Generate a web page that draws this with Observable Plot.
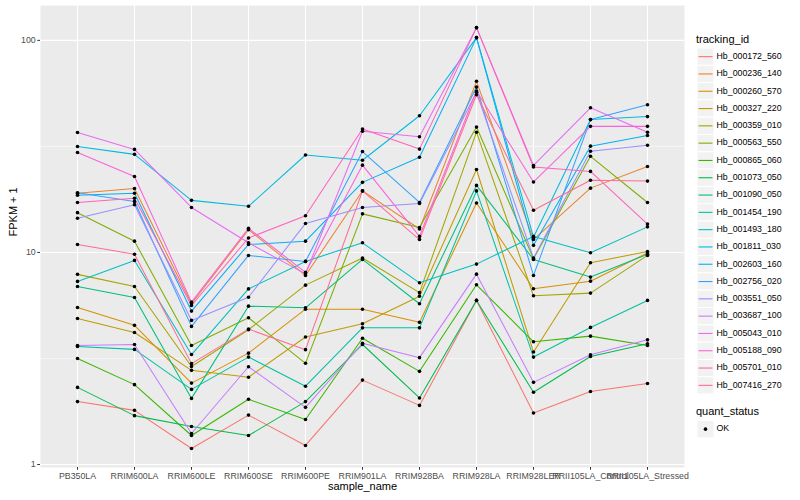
<!DOCTYPE html>
<html>
<head>
<meta charset="utf-8">
<script src="https://cdn.jsdelivr.net/npm/d3@7"></script>
<script src="https://cdn.jsdelivr.net/npm/@observablehq/plot@0.6"></script>
<style>
  html, body { margin: 0; padding: 0; background: white; }
  #chart { width: 800px; height: 500px; }
</style>
</head>
<body>
<div id="chart"></div>
<script>
const samples = ["PB350LA", "RRIM600LA", "RRIM600LE", "RRIM600SE", "RRIM600PE", "RRIM901LA",
  "RRIM928BA", "RRIM928LA", "RRIM928LER", "RRII105LA_Control", "RRII105LA_Stressed"];

const trackingIds = ["Hb_000172_560", "Hb_000236_140", "Hb_000260_570", "Hb_000327_220", "Hb_000359_010",
  "Hb_000563_550", "Hb_000865_060", "Hb_001073_050", "Hb_001090_050", "Hb_001454_190",
  "Hb_001493_180", "Hb_001811_030", "Hb_002603_160", "Hb_002756_020", "Hb_003551_050",
  "Hb_003687_100", "Hb_005043_010", "Hb_005188_090", "Hb_005701_010", "Hb_007416_270"];

const palette = ["#F8766D", "#EA8331", "#D89000", "#C09B00", "#A3A500", "#7CAE00", "#39B600", "#00BB4E",
  "#00BF7D", "#00C1A3", "#00BFC4", "#00BAE0", "#00B0F6", "#35A2FF", "#9590FF", "#C77CFF",
  "#E76BF3", "#FA62DB", "#FF62BC", "#FF6C91"];

// FPKM + 1 per sample (same order as samples)
const hb_000172_560 = [1.98, 1.80, 1.19, 1.71, 1.23, 2.50, 1.90, 5.94, 1.75, 2.21, 2.41];
const hb_000236_140 = [19.0, 20.0, 5.73, 12.8, 7.79, 19.5, 12.9, 64.1, 11.5, 20.1, 25.4];
const hb_000260_570 = [5.50, 4.53, 2.42, 3.35, 5.40, 5.40, 4.68, 17.1, 6.74, 7.32, 9.95];
const hb_000327_220 = [4.88, 4.19, 2.78, 2.58, 3.99, 4.61, 6.22, 24.6, 3.39, 8.94, 10.1];
const hb_000359_010 = [7.88, 6.91, 2.90, 4.32, 7.01, 9.42, 6.46, 36.9, 6.25, 6.43, 9.68];
const hb_000563_550 = [15.4, 11.3, 3.64, 4.92, 3.00, 15.2, 13.1, 39.0, 9.34, 28.4, 17.2];
const hb_000865_060 = [3.16, 2.38, 1.37, 2.03, 1.63, 3.94, 2.75, 7.04, 3.79, 4.03, 3.64];
const hb_001073_050 = [2.31, 1.70, 1.51, 1.37, 1.98, 3.68, 2.06, 5.94, 2.19, 3.23, 3.71];
const hb_001090_050 = [6.91, 6.13, 2.05, 5.58, 5.48, 9.27, 5.73, 20.7, 9.27, 7.65, 9.80];
const hb_001454_190 = [3.60, 3.49, 2.26, 3.21, 2.34, 4.41, 4.41, 19.5, 3.21, 4.43, 5.94];
const hb_001493_180 = [7.30, 9.17, 3.30, 6.73, 9.07, 11.1, 7.19, 8.81, 11.9, 9.97, 13.2];
const hb_001811_030 = [31.6, 29.0, 17.6, 16.5, 28.8, 27.2, 44.1, 103, 11.8, 42.3, 43.7];
const hb_002603_160 = [18.6, 19.0, 5.29, 10.9, 11.3, 21.4, 28.1, 103, 10.8, 31.7, 35.6];
const hb_002756_020 = [19.1, 17.4, 4.48, 9.68, 9.07, 29.9, 17.2, 60.2, 7.79, 42.3, 49.7];
const hb_003551_050 = [14.5, 16.8, 4.78, 6.15, 13.7, 16.3, 17.0, 56.9, 9.42, 30.0, 32.0];
const hb_003687_100 = [3.64, 3.68, 1.40, 2.89, 1.86, 3.73, 3.19, 7.90, 2.44, 3.29, 3.87];
const hb_005043_010 = [36.8, 30.6, 16.3, 11.1, 7.92, 37.3, 35.1, 114.8, 25.7, 48.1, 36.9];
const hb_005188_090 = [29.6, 22.8, 5.83, 13.0, 8.05, 25.8, 11.9, 57.7, 21.5, 39.3, 39.3];
const hb_005701_010 = [17.2, 18.0, 5.62, 11.7, 14.9, 38.2, 30.7, 114.8, 25.3, 24.1, 13.6];
const hb_007416_270 = [10.9, 9.8, 2.99, 4.35, 3.48, 19.5, 11.5, 55.4, 15.8, 21.9, 21.7];

const seriesValues = [hb_000172_560, hb_000236_140, hb_000260_570, hb_000327_220, hb_000359_010,
  hb_000563_550, hb_000865_060, hb_001073_050, hb_001090_050, hb_001454_190,
  hb_001493_180, hb_001811_030, hb_002603_160, hb_002756_020, hb_003551_050,
  hb_003687_100, hb_005043_010, hb_005188_090, hb_005701_010, hb_007416_270];

const yMajor = [1, 10, 100];
const yMinor = [3.1623, 31.623];
const quantStatus = ["OK"];

const data = [];
trackingIds.forEach((id, i) => {
  samples.forEach((s, j) => data.push({id, sample: s, value: seriesValues[i][j], status: "OK"}));
});

const font = "'Liberation Sans', Arial, Helvetica, sans-serif";

const chart = Plot.plot({
  width: 800,
  height: 500,
  marginLeft: 40,
  marginRight: 116,
  marginTop: 5,
  marginBottom: 33,
  style: {background: "white", fontFamily: font, overflow: "visible"},
  x: {type: "point", domain: samples, padding: 0.6, axis: null},
  y: {type: "log", domain: [0.968, 146], axis: null},
  color: {domain: trackingIds, range: palette},
  marks: [
    Plot.frame({fill: "#EBEBEB", stroke: null}),
    Plot.ruleY(yMinor, {stroke: "white", strokeWidth: 0.55}),
    Plot.ruleY(yMajor, {stroke: "white", strokeWidth: 1.1}),
    Plot.ruleX(samples, {stroke: "white", strokeWidth: 1.1}),
    Plot.line(data, {x: "sample", y: "value", z: "id", stroke: "id", strokeWidth: 1.05}),
    Plot.dot(data, {x: "sample", y: "value", r: 1.8, fill: "black", stroke: null}),
    Plot.axisY({ticks: yMajor, tickFormat: d => String(d), tickSize: 2.75, tickPadding: 2,
      fontSize: 8.8, fill: "#4D4D4D", stroke: "#333333", label: null}),
    Plot.axisX({tickSize: 2.75, tickPadding: 2, fontSize: 8.8, fill: "#4D4D4D",
      stroke: "#333333", label: null}),
    Plot.text(["FPKM + 1"], {frameAnchor: "left", dx: -27, rotate: -90, text: d => d,
      fontSize: 11, fill: "black"}),
    Plot.text(["sample_name"], {frameAnchor: "bottom", dy: 22, text: d => d,
      fontSize: 11, fill: "black"})
  ]
});

document.getElementById("chart").appendChild(chart);

// Legend (ggplot-style) drawn with d3 into the right margin
const svg = d3.select(chart);
const lg = svg.append("g").attr("font-family", font).attr("text-anchor", "start");
lg.append("text").attr("x", 696).attr("y", 40).attr("dominant-baseline", "middle")
  .attr("text-anchor", "start").attr("font-size", 11).attr("fill", "black").text("tracking_id");
const keyTop = 48, keyH = 17.3, keyX = 697, keyW = 17;
trackingIds.forEach((id, i) => {
  const y0 = keyTop + i * keyH;
  lg.append("rect").attr("x", keyX).attr("y", y0).attr("width", keyW).attr("height", keyH)
    .attr("fill", "#F2F2F2").attr("stroke", "white").attr("stroke-width", 1);
  lg.append("line").attr("x1", keyX + 1.5).attr("x2", keyX + keyW - 1.5)
    .attr("y1", y0 + keyH / 2).attr("y2", y0 + keyH / 2)
    .attr("stroke", palette[i]).attr("stroke-width", 1.1);
  lg.append("text").attr("x", 716.5).attr("y", y0 + keyH / 2).attr("dominant-baseline", "middle")
    .attr("text-anchor", "start").attr("font-size", 8.8).attr("fill", "black").text(id);
});
lg.append("text").attr("x", 696).attr("y", 412).attr("dominant-baseline", "middle")
  .attr("text-anchor", "start").attr("font-size", 11).attr("fill", "black").text("quant_status");
quantStatus.forEach((q, i) => {
  const y0 = 420.5 + i * keyH;
  lg.append("rect").attr("x", keyX).attr("y", y0).attr("width", keyW).attr("height", keyH)
    .attr("fill", "#F2F2F2").attr("stroke", "white").attr("stroke-width", 1);
  lg.append("circle").attr("cx", keyX + keyW / 2).attr("cy", y0 + keyH / 2).attr("r", 1.8)
    .attr("fill", "black");
  lg.append("text").attr("x", 716.5).attr("y", y0 + keyH / 2).attr("dominant-baseline", "middle")
    .attr("text-anchor", "start").attr("font-size", 8.8).attr("fill", "black").text(q);
});
</script>
</body>
</html>
